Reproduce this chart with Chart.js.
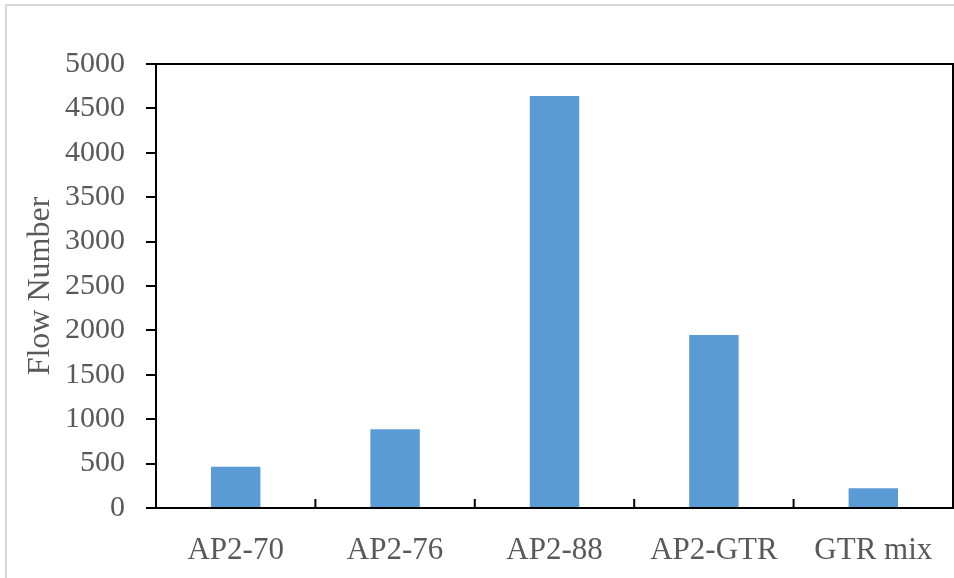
<!DOCTYPE html>
<html>
<head>
<meta charset="utf-8">
<script src="https://cdn.jsdelivr.net/npm/chart.js@4"></script>
<style>
  body { margin: 0; background: #fff; overflow: hidden; }
  #frame { position: absolute; left: 5px; top: 4px; width: 1000px; height: 700px; border: 2px solid #d9d9d9; }
  #chart { position: absolute; left: 0; top: 0; }
</style>
</head>
<body>
<div id="frame"></div>
<canvas id="chart"></canvas>
<script>
var categories = ['AP2-70', 'AP2-76', 'AP2-88', 'AP2-GTR', 'GTR mix'];
var flowNumbers = [465, 886, 4640, 1948, 222];
var yTicks = [0, 500, 1000, 1500, 2000, 2500, 3000, 3500, 4000, 4500, 5000];

var textColor = '#595959';
var fontFamily = '"Liberation Serif", "Times New Roman", serif';

// top/right frame of the plot plus the short inner ticks between categories
var plotFrame = {
    id: 'plotFrame',
    afterDraw: function (chart) {
        var ctx = chart.ctx;
        var area = chart.chartArea;
        var x = chart.scales.x;
        ctx.save();
        ctx.strokeStyle = '#000';
        ctx.lineWidth = 2;
        ctx.beginPath();
        ctx.moveTo(area.left, area.top);
        ctx.lineTo(area.right, area.top);
        ctx.lineTo(area.right, area.bottom);
        for (var i = 1; i < categories.length; i++) {
            var px = (x.getPixelForValue(i - 1) + x.getPixelForValue(i)) / 2;
            ctx.moveTo(px, area.bottom);
            ctx.lineTo(px, area.bottom - 9);
        }
        ctx.stroke();
        ctx.restore();
    }
};

var ctx = document.getElementById('chart').getContext('2d');
ctx.canvas.width = 954;
ctx.canvas.height = 578;
var chart = new Chart(ctx, {
    type: 'bar',
    data: {
        labels: categories,
        datasets: [{
            data: flowNumbers,
            backgroundColor: '#5b9bd5',
            barPercentage: 0.31,
            categoryPercentage: 1
        }]
    },
    options: {
        responsive: false,
        animation: false,
        layout: { padding: { left: 0, top: 64, right: 1, bottom: 0 } },
        plugins: {
            legend: { display: false },
            tooltip: { enabled: false }
        },
        scales: {
            x: {
                grid: { display: false },
                border: { display: true, color: '#000', width: 2 },
                ticks: {
                    color: textColor,
                    font: { family: fontFamily, size: 31 },
                    padding: 16,
                    maxRotation: 0
                },
                afterFit: function (scale) { scale.height = 70; }
            },
            y: {
                min: 0,
                max: 5000,
                afterBuildTicks: function (scale) {
                    scale.ticks = yTicks.map(function (v) { return { value: v }; });
                },
                grid: {
                    drawOnChartArea: false,
                    drawTicks: true,
                    tickLength: 10,
                    color: '#000',
                    lineWidth: 2
                },
                border: { display: true, color: '#000', width: 2 },
                ticks: {
                    color: textColor,
                    font: { family: fontFamily, size: 30 },
                    padding: 21,
                    callback: function (v) { return String(v); }
                },
                title: {
                    display: true,
                    text: 'Flow Number',
                    color: textColor,
                    font: { family: fontFamily, size: 32 },
                    padding: { top: 21, bottom: 0 }
                },
                afterFit: function (scale) { scale.width = 156; }
            }
        }
    },
    plugins: [plotFrame]
});
</script>
</body>
</html>
